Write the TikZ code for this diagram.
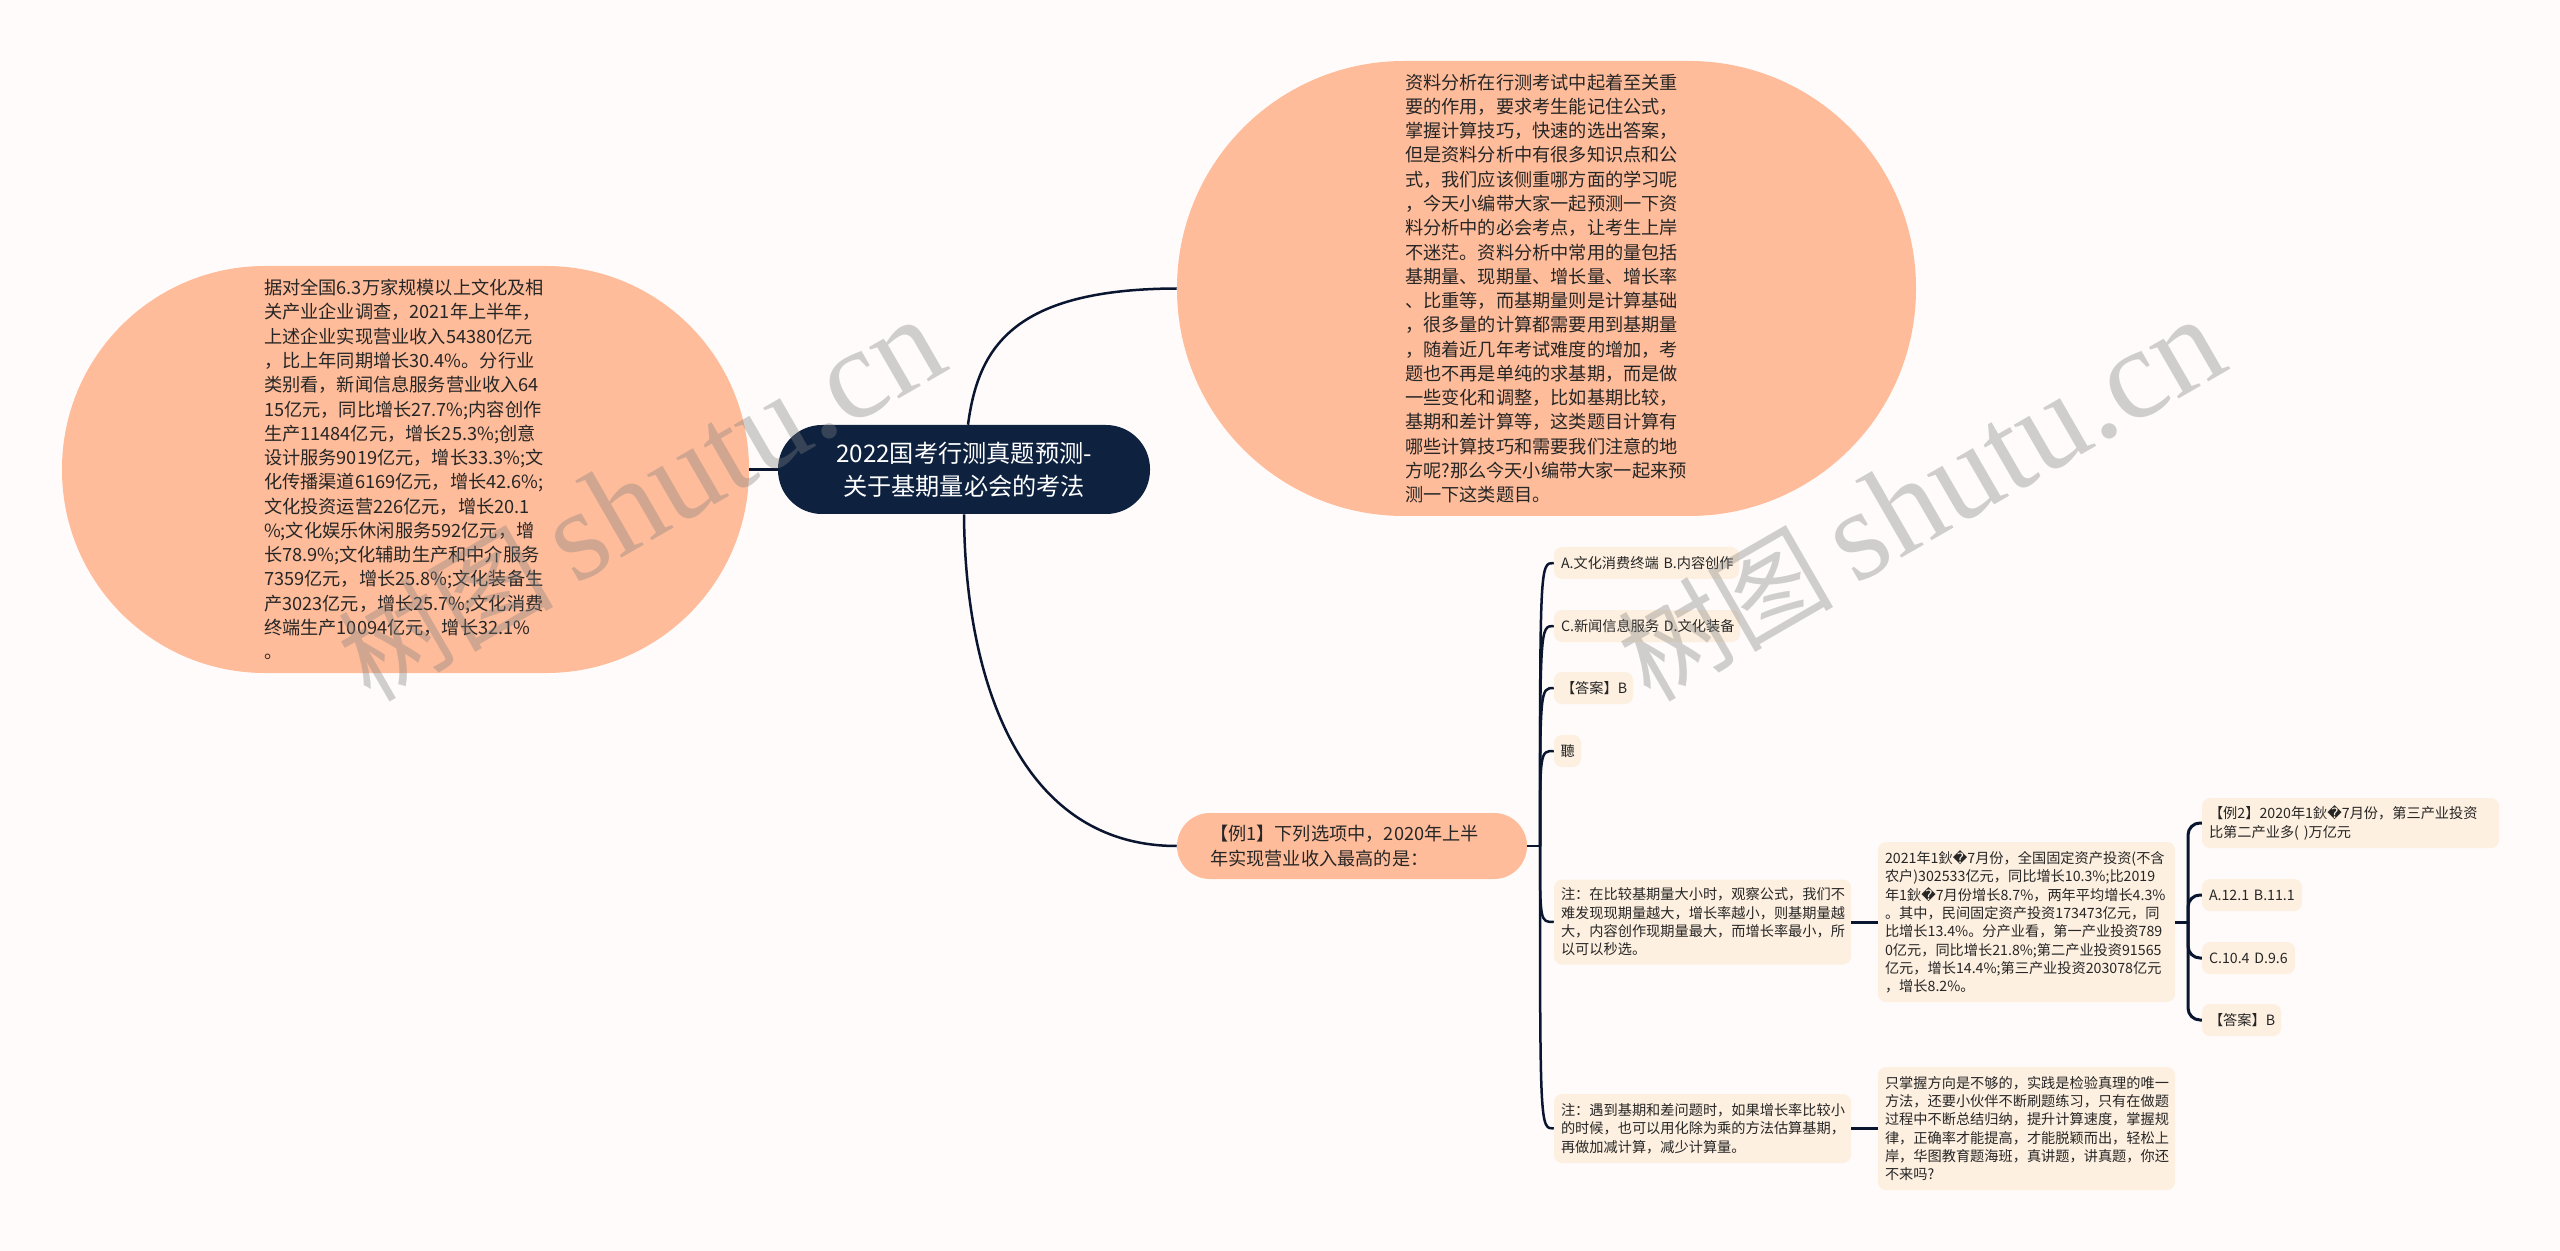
\documentclass[tikz,border=0pt]{standalone}
\usepackage{fontspec}
\setmainfont{Noto Sans CJK SC}
\newfontfamily\fbfont{DejaVu Sans}
\newfontfamily\wmlat{Liberation Serif}
\newfontfamily\wmcjk{Noto Sans CJK SC}
\newlength\pxu
\pxu=0.75pt
\definecolor{pagebg}{HTML}{FEFBFA}
\definecolor{blobfill}{HTML}{FFBC9A}
\definecolor{softfill}{HTML}{FEF0E0}
\definecolor{rootfill}{HTML}{0E2240}
\definecolor{linkcol}{HTML}{0A1630}
\definecolor{textcol}{HTML}{262626}
\definecolor{markcol}{HTML}{808080}
\newcommand{\badch}{{\fbfont\char"FFFD}}
\tikzset{
  rootbox/.style={fill=rootfill,text=white,align=center,rounded corners=44\pxu,minimum width=372\pxu,minimum height=89\pxu,inner sep=0pt,font=\fontsize{18.15}{24.5}\selectfont},
  blobbox/.style={fill=blobfill,text=textcol,align=left,inner ysep=0pt,font=\fontsize{13.65}{18.2}\selectfont},
  softbox/.style={fill=softfill,text=textcol,align=left,rounded corners=8\pxu,inner xsep=7\pxu,inner ysep=0pt,font=\fontsize{10.65}{13.73}\selectfont},
  lk/.style={draw=linkcol,line width=2.5\pxu},
  lkb/.style={draw=linkcol,line width=3\pxu,rounded corners=12\pxu},
  markbox/.style={rotate=30,anchor=base west,inner sep=0pt,text=markcol,text opacity=.36,font=\fontsize{97}{100}\selectfont}
}
\begin{document}
\begin{tikzpicture}[x=0.75pt,y=-0.75pt]
\useasboundingbox (0,0) rectangle (2560,1251);
\fill[pagebg] (0,0) rectangle (2560,1251);

\node[rootbox] (root) at (964,469.5) {2022国考行测真题预测-\\关于基期量必会的考法};

\node[blobbox,rounded corners=203\pxu,inner xsep=202\pxu,text width=283\pxu,minimum height=407\pxu] (lblob) at (405.5,469.5) {据对全国6.3万家规模以上文化及相\\关产业企业调查，2021年上半年，\\上述企业实现营业收入54380亿元\\，比上年同期增长30.4\%。分行业\\类别看，新闻信息服务营业收入64\\15亿元，同比增长27.7\%;内容创作\\生产11484亿元，增长25.3\%;创意\\设计服务9019亿元，增长33.3\%;文\\化传播渠道6169亿元，增长42.6\%;\\文化投资运营226亿元，增长20.1\\\%;文化娱乐休闲服务592亿元，增\\长78.9\%;文化辅助生产和中介服务\\7359亿元，增长25.8\%;文化装备生\\产3023亿元，增长25.7\%;文化消费\\终端生产10094亿元，增长32.1\%\\。};

\node[blobbox,rounded corners=227\pxu,inner xsep=228\pxu,text width=283\pxu,minimum height=455\pxu] (rblob) at (1546.5,288.5) {资料分析在行测考试中起着至关重\\要的作用，要求考生能记住公式，\\掌握计算技巧，快速的选出答案，\\但是资料分析中有很多知识点和公\\式，我们应该侧重哪方面的学习呢\\，今天小编带大家一起预测一下资\\料分析中的必会考点，让考生上岸\\不迷茫。资料分析中常用的量包括\\基期量、现期量、增长量、增长率\\、比重等，而基期量则是计算基础\\，很多量的计算都需要用到基期量\\，随着近几年考试难度的增加，考\\题也不再是单纯的求基期，而是做\\一些变化和调整，比如基期比较，\\基期和差计算等，这类题目计算有\\哪些计算技巧和需要我们注意的地\\方呢?那么今天小编带大家一起来预\\测一下这类题目。};

\node[blobbox,rounded corners=33\pxu,inner xsep=33\pxu,text width=284\pxu,minimum height=66\pxu,font=\fontsize{13.65}{19}\selectfont] (ex1) at (1352,846) {【例1】下列选项中，2020年上半\\年实现营业收入最高的是：};

\node[softbox,text width=171\pxu,minimum height=32\pxu] (a1) at (1646.5,563) {\mbox{A.文化消费终端 B.内容创作}};
\node[softbox,text width=172\pxu,minimum height=32\pxu] (a2) at (1647,626) {\mbox{C.新闻信息服务 D.文化装备}};
\node[softbox,text width=65\pxu,minimum height=32\pxu] (a3) at (1593.5,688) {【答案】B};
\node[softbox,text width=14\pxu,inner xsep=6.5\pxu,minimum height=32\pxu] (a4) at (1567.5,751) {聽};
\node[softbox,text width=283\pxu,minimum height=85\pxu] (a5) at (1702.5,922) {注：在比较基期量大小时，观察公式，我们不\\难发现现期量越大，增长率越小，则基期量越\\大，内容创作现期量最大，而增长率最小，所\\以可以秒选。};
\node[softbox,text width=283\pxu,minimum height=69\pxu] (a6) at (1702.5,1128.5) {注：遇到基期和差问题时，如果增长率比较小\\的时候，也可以用化除为乘的方法估算基期，\\再做加减计算，减少计算量。};

\node[softbox,text width=283\pxu,minimum height=160\pxu] (b1) at (2026.5,922) {2021年1鈥\badch 7月份，全国固定资产投资(不含\\农户)302533亿元，同比增长10.3\%;比2019\\年1鈥\badch 7月份增长8.7\%，两年平均增长4.3\%\\。其中，民间固定资产投资173473亿元，同\\比增长13.4\%。分产业看，第一产业投资789\\0亿元，同比增长21.8\%;第二产业投资91565\\亿元，增长14.4\%;第三产业投资203078亿元\\，增长8.2\%。};
\node[softbox,text width=283\pxu,minimum height=123\pxu] (b2) at (2026.5,1128.5) {只掌握方向是不够的，实践是检验真理的唯一\\方法，还要小伙伴不断刷题练习，只有在做题\\过程中不断总结归纳，提升计算速度，掌握规\\律，正确率才能提高，才能脱颖而出，轻松上\\岸，华图教育题海班，真讲题，讲真题，你还\\不来吗?};

\node[softbox,text width=283\pxu,minimum height=50\pxu] (c1) at (2350.5,823) {【例2】2020年1鈥\badch 7月份，第三产业投资\\比第二产业多( )万亿元};
\node[softbox,text width=86\pxu,minimum height=32\pxu] (c2) at (2252,895) {\mbox{A.12.1 B.11.1}};
\node[softbox,text width=79\pxu,minimum height=32\pxu] (c3) at (2248.5,958) {\mbox{C.10.4 D.9.6}};
\node[softbox,text width=65\pxu,minimum height=32\pxu] (c4) at (2241.5,1020) {【答案】B};

\coordinate (tr1) at (1540,846);
\coordinate (tr2) at (2188,922);

\draw[lk] (lblob.east) -- (root.west);
\draw[lk] (root.north) ++(4,0) .. controls (978,350) and (1010,289) .. (rblob.west);
\draw[lk] (root.south) .. controls (965,680) and (1020,846) .. (ex1.west);
\draw[lk] (ex1.east) -- (tr1);
\foreach \n in {a1,a2,a3,a4,a5,a6}
  \draw[lk] (tr1) .. controls (tr1 |- \n.west) and (tr1 |- \n.west) .. (\n.west);
\draw[lkb] (a5.east) -- (b1.west);
\draw[lkb] (a6.east) -- (b2.west);
\draw[lkb] (b1.east) -- (tr2);
\foreach \n in {c1,c2,c3,c4}
  \draw[lkb] (tr2) |- (\n.west);

\node[markbox] (mk1) at (370,704) {{\wmcjk\fontsize{81}{90}\selectfont 树图}\,{\wmlat shutu.cn}};
\node[markbox] (mk2) at (1650,704) {{\wmcjk\fontsize{81}{90}\selectfont 树图}\,{\wmlat shutu.cn}};
\end{tikzpicture}
\end{document}
